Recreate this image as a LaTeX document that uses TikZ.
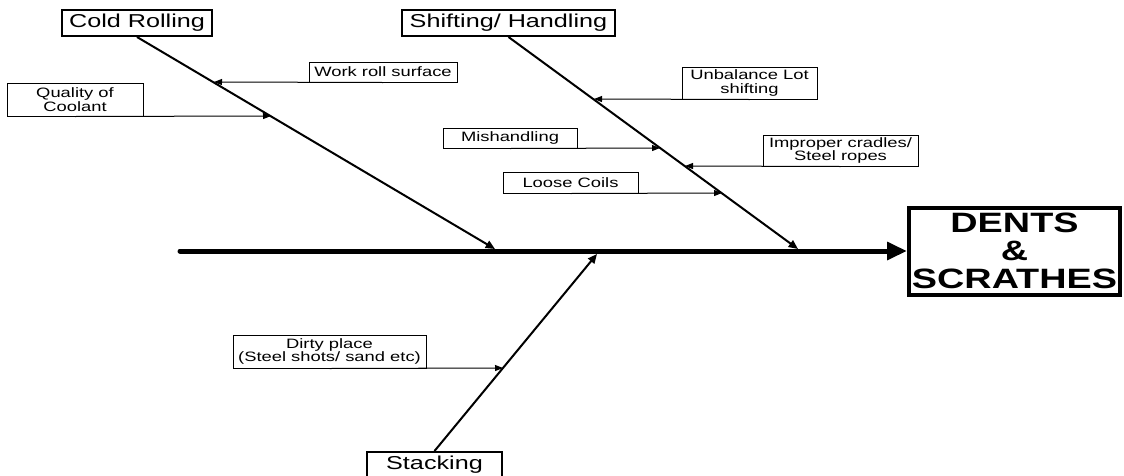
\documentclass[tikz,border=0pt]{standalone}
\usepackage{fontspec}
\setmainfont{Liberation Sans}[FakeStretch=1.35]
\usetikzlibrary{arrows.meta}

\begin{document}
\begin{tikzpicture}[x=0.75pt, y=-0.75pt,
		cause/.style={draw, line width=0.75pt, align=center, inner sep=0pt, font=\fontsize{10.2}{10}\selectfont},
		bonebox/.style={draw, line width=1.5pt, inner sep=0pt, font=\fontsize{14}{16}\selectfont},
		sub/.style={line width=0.75pt, -{Triangle[length=6pt, width=4.5pt]}},
		rib/.style={line width=1.5pt, -{Triangle[length=7pt, width=6pt]}}]
	\useasboundingbox (0, 0) rectangle (1124, 475);

	\node[draw, line width=3pt, align=center, inner sep=0pt, minimum width=158.25pt, minimum height=65.25pt, font=\fontsize{21}{21}\selectfont\bfseries] (effect) at (1014.5, 251) {DENTS\\ \&\\ SCRATHES};
	\coordinate (tail) at (180, 251);
	\draw[line width=3.75pt, line cap=round, -{Triangle[length=15pt, width=13pt]}] (tail) -- (effect.west);

	\node[bonebox, minimum width=112.5pt, minimum height=19.5pt] (cold) at (137, 23) {Cold Rolling};
	\node[bonebox, minimum width=159.75pt, minimum height=19.5pt] (shift) at (508.5, 23) {Shifting/ Handling};
	\node[bonebox, minimum width=101.25pt, minimum height=18.75pt] (stack) at (434.5, 464.5) {Stacking};

	\coordinate (cend) at (495, 249);
	\coordinate (send) at (798, 249);
	\coordinate (tend) at (597, 254);
	\draw[rib] (cold.south) -- (cend);
	\draw[rib] (shift.south) -- (send);
	\draw[rib] (stack.north) -- (tend);

	\node[cause, minimum width=102pt, minimum height=24.75pt] (coolant) at (75, 99.5) {Quality of\\Coolant};
	\node[cause, minimum width=111pt, minimum height=15pt] (roll) at (383, 72) {Work roll surface};
	\node[cause, minimum width=101.25pt, minimum height=24pt] (unbal) at (749.5, 83) {Unbalance Lot\\shifting};
	\node[cause, minimum width=100.5pt, minimum height=15pt] (mish) at (510, 138) {Mishandling};
	\node[cause, minimum width=116.25pt, minimum height=23.25pt] (cradle) at (840.5, 150.5) {Improper cradles/\\Steel ropes};
	\node[cause, minimum width=101.25pt, minimum height=15.75pt] (loose) at (570.5, 182.5) {Loose Coils};
	\node[cause, minimum width=144.75pt, minimum height=24.75pt] (dirty) at (329.5, 351.5) {Dirty place\\(Steel shots/ sand etc)};

	\coordinate (q1) at (271, 116);
	\coordinate (w1) at (214, 82);
	\coordinate (u1) at (594, 99);
	\coordinate (m1) at (660, 148);
	\coordinate (i1) at (685, 166);
	\coordinate (l1) at (722, 193);
	\coordinate (d1) at (503, 368);
	\draw[sub] (coolant.south) -- (q1);
	\draw[sub] (roll.south) -- (w1);
	\draw[sub] (unbal.south) -- (u1);
	\draw[sub] (mish.south) -- (m1);
	\draw[sub] (cradle.south) -- (i1);
	\draw[sub] (loose.south) -- (l1);
	\draw[sub] (dirty.south) -- (d1);
\end{tikzpicture}
\end{document}
